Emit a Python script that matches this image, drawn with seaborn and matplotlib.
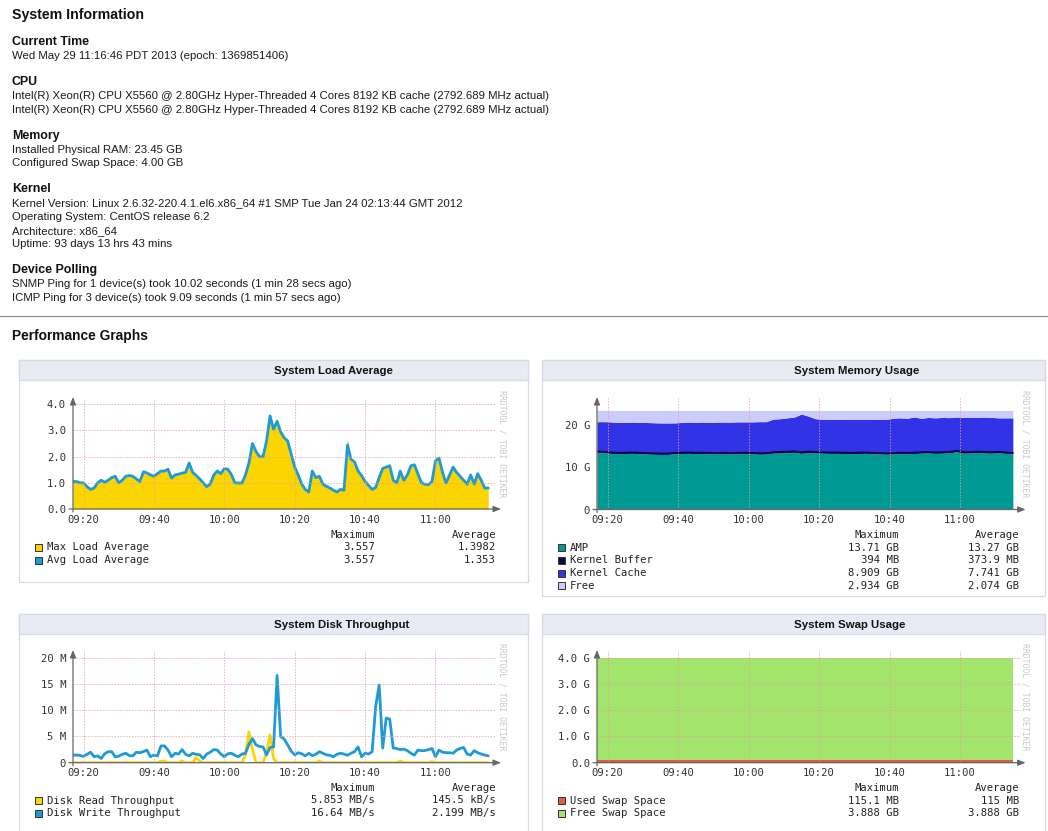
import numpy as np
import pandas as pd
import matplotlib
matplotlib.use("Agg")
import matplotlib.pyplot as plt
from matplotlib.patches import Rectangle
import seaborn as sns

sns.set_style("white")
SANS = ["Liberation Sans", "DejaVu Sans"]
MONO = "DejaVu Sans Mono"
plt.rcParams["font.family"] = SANS

W, H = 1048, 831

# ---------------------------------------------------------------- data
time_ticks = [0, 20, 40, 60, 80, 100]          # minutes after 09:20
time_labels = ["09:20", "09:40", "10:00", "10:20", "10:40", "11:00"]

# one-minute samples starting 3 minutes before 09:20
sample_start = -3
load_max = [1.05, 1.05, 1.0, 1.0, 0.85, 0.75, 0.8, 1.0, 1.1, 1.02, 1.1, 1.2, 1.25,
            1.0, 1.1, 1.25, 1.28, 1.25, 1.15, 1.05, 1.42, 1.38, 1.3,
            1.25, 1.35, 1.45, 1.45, 1.52, 1.18, 1.3, 1.33, 1.37, 1.4,
            1.76, 1.4, 1.28, 1.15, 1.0, 0.85, 0.95, 1.3, 1.45, 1.35,
            1.54, 1.52, 1.32, 1.0, 0.99, 0.99, 1.3, 1.76, 2.5, 2.2,
            2.0, 2.0, 2.6, 3.557, 3.05, 3.35, 2.95, 2.72, 2.6, 2.1,
            1.6, 1.3, 0.95, 0.75, 0.65, 1.45, 1.2, 1.25, 0.95, 0.87,
            0.8, 0.72, 0.65, 0.75, 0.72, 2.7, 1.9, 1.8, 1.45, 1.28,
            1.05, 0.9, 0.75, 0.82, 1.2, 1.55, 1.6, 1.65, 1.1, 1.0,
            1.45, 1.1, 1.3, 1.65, 1.69, 1.35, 1.0, 0.95, 0.93, 1.05,
            1.84, 1.95, 1.4, 0.99, 1.3, 1.6, 1.4, 1.25, 1.1, 0.95,
            1.3, 0.95, 1.35, 1.1, 0.8, 0.8]
load_avg = [1.05, 1.05, 1.0, 1.0, 0.85, 0.75, 0.8, 1.0, 1.1, 1.02, 1.1, 1.2, 1.25,
            1.0, 1.1, 1.25, 1.28, 1.25, 1.15, 1.05, 1.42, 1.38, 1.3,
            1.25, 1.35, 1.45, 1.45, 1.52, 1.18, 1.3, 1.33, 1.37, 1.4,
            1.76, 1.4, 1.28, 1.15, 1.0, 0.85, 0.95, 1.3, 1.45, 1.35,
            1.54, 1.52, 1.32, 1.0, 0.99, 0.99, 1.3, 1.76, 2.5, 2.2,
            2.0, 2.0, 2.6, 3.557, 3.05, 3.35, 2.95, 2.72, 2.6, 2.1,
            1.6, 1.3, 0.95, 0.75, 0.65, 1.45, 1.2, 1.25, 0.95, 0.87,
            0.8, 0.72, 0.65, 0.75, 0.72, 2.45, 1.9, 1.8, 1.45, 1.28,
            1.05, 0.9, 0.75, 0.82, 1.2, 1.55, 1.6, 1.65, 1.1, 1.0,
            1.45, 1.1, 1.3, 1.65, 1.69, 1.35, 1.0, 0.95, 0.93, 1.05,
            1.84, 1.95, 1.4, 0.99, 1.3, 1.6, 1.4, 1.25, 1.1, 0.95,
            1.3, 0.95, 1.35, 1.1, 0.8, 0.8]

disk_read_mb = [0, 0, 0, 0, 0, 0, 0, 0, 0, 0, 0, 0, 0,
                0, 0, 0, 0, 0, 0, 0, 0, 0, 0,
                0, 0, 0.3, 0.3, 0, 0, 0, 0, 0.3, 0,
                0, 0, 1.0, 0.3, 0, 0, 0, 0, 0, 0,
                0, 0, 0, 0, 0, 0, 1.5, 5.853, 2.5, 0,
                0, 0, 2.0, 5.3, 0.8, 0, 0, 0, 0, 0,
                0, 0, 0, 0, 0, 0, 0, 0.3, 0, 0,
                0, 0, 0, 0, 0, 0, 0, 0, 0, 0,
                0, 0, 0, 0, 0, 0, 0, 0, 0, 0,
                0.3, 0, 0, 0, 0, 0, 0, 0, 0, 0.2,
                0, 0, 0, 0, 0, 0, 0, 0, 0, 0,
                0, 0, 0, 0, 0, 0]
disk_write_mb = [1.46, 1.46, 1.4, 1.2, 1.6, 2.0, 1.14, 1.3, 0.8, 1.7, 2.1, 2.1, 1.1,
                 1.25, 1.6, 1.8, 1.35, 1.3, 2.0, 1.9, 2.1, 2.4, 1.14,
                 1.45, 1.3, 3.2, 3.2, 2.4, 1.14, 1.8, 1.65, 2.5, 1.6,
                 1.3, 1.8, 1.6, 1.5, 0.8, 1.65, 2.0, 2.5, 2.4, 1.65,
                 1.14, 1.7, 1.8, 1.4, 1.14, 1.65, 1.8, 3.5, 4.6, 3.4,
                 3.1, 3.0, 1.5, 2.9, 3.0, 16.64, 5.0, 4.5, 3.4, 2.2,
                 1.5, 1.9, 1.7, 1.3, 1.8, 1.35, 1.6, 2.1, 1.8, 1.5,
                 1.4, 1.14, 1.6, 1.8, 1.65, 1.4, 1.8, 2.1, 3.0, 1.14,
                 1.8, 1.65, 2.1, 10.7, 14.8, 2.8, 8.5, 8.3, 2.8, 2.7,
                 2.5, 2.6, 2.3, 1.8, 1.45, 2.4, 2.3, 2.3, 2.5, 2.7,
                 1.14, 2.4, 2.0, 1.9, 1.9, 1.8, 2.4, 2.7, 2.9, 1.65,
                 1.45, 2.3, 1.9, 1.65, 1.45, 1.3]

# memory, two-minute samples starting 3 minutes before 09:20 (GB)
mem_step = 2
installed_ram_gb = 23.45
mem_amp = [13.55, 13.45, 13.3, 13.2, 13.25, 13.3, 13.2, 13.15, 13.1, 13.05,
           13.05, 13.2, 13.25, 13.3, 13.2, 13.25, 13.2, 13.15, 13.2, 13.15,
           13.2, 13.25, 13.2, 13.1, 13.15, 13.35, 13.4, 13.45, 13.55, 13.3,
           13.5, 13.4, 13.35, 13.3, 13.3, 13.25, 13.2, 13.25, 13.3, 13.2,
           13.15, 13.1, 13.15, 13.2, 13.2, 13.25, 13.35, 13.4, 13.3, 13.35,
           13.4, 13.71, 13.35, 13.4, 13.5, 13.4, 13.35, 13.45, 13.3, 13.2]
mem_buffer = [0.38, 0.38, 0.37, 0.37, 0.37, 0.37, 0.37, 0.37, 0.36, 0.36,
              0.36, 0.37, 0.37, 0.37, 0.37, 0.37, 0.37, 0.37, 0.37, 0.37,
              0.37, 0.37, 0.37, 0.37, 0.37, 0.38, 0.38, 0.38, 0.39, 0.394,
              0.38, 0.38, 0.37, 0.37, 0.37, 0.37, 0.37, 0.37, 0.37, 0.37,
              0.37, 0.37, 0.37, 0.37, 0.37, 0.37, 0.37, 0.37, 0.37, 0.37,
              0.37, 0.37, 0.37, 0.37, 0.37, 0.37, 0.37, 0.37, 0.37, 0.37]
mem_cache = [6.87, 6.97, 7.08, 7.03, 7.03, 7.03, 7.03, 7.08, 7.09, 7.09,
             7.09, 6.93, 6.98, 7.03, 7.08, 7.08, 7.08, 7.18, 7.13, 7.18,
             7.18, 7.13, 7.18, 7.33, 7.28, 7.67, 7.72, 7.87, 7.96, 8.909,
             8.22, 7.72, 7.63, 7.68, 7.68, 7.68, 7.78, 7.73, 7.68, 7.78,
             7.88, 7.88, 8.08, 8.13, 8.03, 8.28, 7.88, 8.03, 8.03, 8.08,
             7.98, 7.82, 8.08, 8.08, 7.93, 8.13, 8.08, 7.88, 8.03, 8.13]

swap_minutes = [-3, 115]
swap_used_gb = [0.115, 0.115]
swap_free_gb = [3.888, 3.888]

load_legend = [("Max Load Average", "3.557", "1.3982"),
               ("Avg Load Average", "3.557", "1.353")]
mem_legend = [("AMP", "13.71 GB", "13.27 GB"),
              ("Kernel Buffer", "394 MB", "373.9 MB"),
              ("Kernel Cache", "8.909 GB", "7.741 GB"),
              ("Free", "2.934 GB", "2.074 GB")]
disk_legend = [("Disk Read Throughput", "5.853 MB/s", "145.5 kB/s"),
               ("Disk Write Throughput", "16.64 MB/s", "2.199 MB/s")]
swap_legend = [("Used Swap Space", "115.1 MB", "115 MB"),
               ("Free Swap Space", "3.888 GB", "3.888 GB")]

info_sections = [
    ("Current Time", ["Wed May 29 11:16:46 PDT 2013 (epoch: 1369851406)"]),
    ("CPU", ["Intel(R) Xeon(R) CPU X5560 @ 2.80GHz Hyper-Threaded 4 Cores 8192 KB cache (2792.689 MHz actual)",
             "Intel(R) Xeon(R) CPU X5560 @ 2.80GHz Hyper-Threaded 4 Cores 8192 KB cache (2792.689 MHz actual)"]),
    ("Memory", ["Installed Physical RAM: 23.45 GB", "Configured Swap Space: 4.00 GB"]),
    ("Kernel", ["Kernel Version: Linux 2.6.32-220.4.1.el6.x86_64 #1 SMP Tue Jan 24 02:13:44 GMT 2012",
                "Operating System: CentOS release 6.2", "Architecture: x86_64",
                "Uptime: 93 days 13 hrs 43 mins"]),
    ("Device Polling", ["SNMP Ping for 1 device(s) took 10.02 seconds (1 min 28 secs ago)",
                        "ICMP Ping for 3 device(s) took 9.09 seconds (1 min 57 secs ago)"]),
]

# ---------------------------------------------------------------- colours
YELLOW = "#FAD500"
BLUE = "#1E9AD6"
TEAL = "#009A94"
NAVY = "#0B0B4A"
CACHE = "#3232E6"
FREE = "#CCCCFA"
RED = "#E05A4C"
GREEN = "#A2E46C"
GRID = "#E9A0A0"
AXIS = "#666666"
HEADER = "#E8EBF4"
BORDER = "#D6DAE2"

fig = plt.figure(figsize=(W / 100, H / 100), dpi=100)
fig.patch.set_facecolor("white")


def fx(x):
    return x / W


def fy(y):
    return 1 - y / H


def put(x, y, s, size=8.2, weight="normal", family=None, ha="left", color="#111111", **kw):
    fig.text(fx(x), fy(y), s, fontsize=size, fontweight=weight, ha=ha, va="center",
             color=color, family=family or SANS, **kw)


# ---------------------------------------------------------------- info text
put(12, 15, "System Information", size=10.2, weight="bold")
y = 42
for title, lines in info_sections:
    put(12, y, title, size=8.9, weight="bold")
    for i, line in enumerate(lines):
        put(12, y + 14 + 13.6 * i, line, size=8.2, color="#1a1a1a")
    y += 14 + 13.6 * len(lines) + 12.5

fig.add_artist(plt.Line2D([0, 1], [fy(316), fy(316)], color="#8a8a8a", lw=0.8,
                          transform=fig.transFigure))
put(12, 336, "Performance Graphs", size=9.9, weight="bold")


# ---------------------------------------------------------------- panels
def panel(x0, y0, x1, y1, title):
    fig.add_artist(Rectangle((fx(x0), fy(y1)), (x1 - x0) / W, (y1 - y0) / H,
                             transform=fig.transFigure, fc="white", ec=BORDER, lw=0.9, zorder=-2))
    fig.add_artist(Rectangle((fx(x0), fy(y0 + 20)), (x1 - x0) / W, 20 / H,
                             transform=fig.transFigure, fc=HEADER, ec=BORDER, lw=0.9, zorder=-1))
    put((x0 + x1) / 2, y0 + 10.5, title, size=8.2, weight="bold", color="#111111")


def chart_axes(x0, y0, x1, y1, ylim, yticks, ylabels, hgrid=True):
    ax = fig.add_axes([fx(x0), fy(y1), (x1 - x0) / W, (y1 - y0) / H])
    ax.set_xlim(-3, 117.2)
    ax.set_ylim(*ylim)
    ax.patch.set_visible(False)
    for sp in ax.spines.values():
        sp.set_visible(False)
    ax.set_xticks(time_ticks, time_labels, fontfamily=MONO)
    ax.set_yticks(yticks, ylabels, fontfamily=MONO)
    ax.tick_params(axis="both", direction="out", length=2.2, width=0.8, color=AXIS,
                   labelsize=7.6, labelcolor="#333333")
    ax.tick_params(axis="x", pad=1.8)
    ax.tick_params(axis="y", pad=2.8)
    for t in time_ticks:
        ax.axvline(t, color=GRID, lw=0.7, ls=(0, (1.5, 1.5)), alpha=0.8, zorder=4)
    if hgrid:
        for v in yticks[1:]:
            ax.axhline(v, color=GRID, lw=0.7, ls=(0, (1.5, 1.5)), alpha=0.8, zorder=4)
    wpx = x1 - x0
    hpx = y1 - y0
    arrow = dict(arrowstyle="-|>,head_length=0.45,head_width=0.18", color=AXIS, lw=0.9,
                 shrinkA=0, shrinkB=0)
    ax.annotate("", xy=(1 + 5 / wpx, 0), xytext=(-4 / wpx, 0), xycoords="axes fraction",
                arrowprops=arrow, annotation_clip=False, zorder=6)
    ax.annotate("", xy=(0, 1 + 1 / hpx), xytext=(0, -3 / hpx), xycoords="axes fraction",
                arrowprops=arrow, annotation_clip=False, zorder=6)
    return ax


def tidy(ax):
    ax.set_xlabel("")
    ax.set_ylabel("")


def watermark(x, y):
    put(x, y, "RRDTOOL / TOBI OETIKER", size=5.9, family=MONO, ha="center",
        color="#c9c9c9", rotation=270)


def legend(rows, colors, x_sq, x_max, x_avg, y_head, dy):
    put(x_max, y_head, "Maximum", size=7.6, family=MONO, ha="right", color="#222222")
    put(x_avg, y_head, "Average", size=7.6, family=MONO, ha="right", color="#222222")
    for i, ((name, vmax, vavg), c) in enumerate(zip(rows, colors)):
        yy = y_head + dy * (i + 1)
        fig.add_artist(Rectangle((fx(x_sq), fy(yy + 3.5)), 7 / W, 7 / H, transform=fig.transFigure,
                                 fc=c, ec="#333333", lw=0.7))
        put(x_sq + 12, yy, name, size=7.6, family=MONO, color="#222222")
        put(x_max, yy, vmax, size=7.6, family=MONO, ha="right", color="#222222")
        put(x_avg, yy, vavg, size=7.6, family=MONO, ha="right", color="#222222")


panel(19, 360, 528, 582, "System Load Average")
panel(542, 360, 1045, 596, "System Memory Usage")
panel(19, 614, 528, 840, "System Disk Throughput")
panel(542, 614, 1045, 840, "System Swap Usage")

minutes = np.arange(len(load_max)) + sample_start

# --- load average
ax1 = chart_axes(73, 398, 496, 509, (0, 4.24), [0, 1, 2, 3, 4],
                 ["0.0", "1.0", "2.0", "3.0", "4.0"])
load_df = pd.DataFrame({"minute": minutes, "max": load_max, "avg": load_avg})
ax1.fill_between(load_df["minute"], 0, load_df["max"], color=YELLOW, lw=0, zorder=1)
sns.lineplot(data=load_df, x="minute", y="avg", color=BLUE, lw=2.0, ax=ax1, zorder=3,
             legend=False)
tidy(ax1)
watermark(502, 444)
legend(load_legend, [YELLOW, BLUE], 35, 375, 496, 535, 12.5)

# --- memory usage
mem_min = np.arange(len(mem_amp)) * mem_step + sample_start
amp = np.array(mem_amp)
buf_top = amp + np.array(mem_buffer)
cache_top = buf_top + np.array(mem_cache)
ax2 = chart_axes(597, 398, 1020.6, 509.5, (0, 26.4), [0, 10, 20], ["0", "10 G", "20 G"],
                 hgrid=False)
ax2.fill_between(mem_min, 0, amp, color=TEAL, lw=0, zorder=1)
ax2.fill_between(mem_min, amp, buf_top, color=NAVY, lw=0, zorder=1)
sns.lineplot(x=mem_min, y=buf_top - 0.15, color=NAVY, lw=1.3, ax=ax2, zorder=2, legend=False)
ax2.fill_between(mem_min, buf_top, cache_top, color=CACHE, lw=0, zorder=1)
ax2.fill_between(mem_min, cache_top, installed_ram_gb, color=FREE, lw=0, zorder=1)
tidy(ax2)
watermark(1025, 444)
legend(mem_legend, [TEAL, NAVY, CACHE, FREE], 558, 899, 1019, 535, 12.7)

# --- disk throughput
ax3 = chart_axes(73, 651, 496, 762.7, (0, 21.28), [0, 5, 10, 15, 20],
                 ["0", "5 M", "10 M", "15 M", "20 M"])
disk_df = pd.DataFrame({"minute": minutes, "read": disk_read_mb, "write": disk_write_mb})
sns.lineplot(data=disk_df, x="minute", y="read", color=YELLOW, lw=2.0, ax=ax3, zorder=3,
             legend=False)
sns.lineplot(data=disk_df, x="minute", y="write", color=BLUE, lw=2.0, ax=ax3, zorder=3,
             legend=False)
tidy(ax3)
watermark(502, 697)
legend(disk_legend, [YELLOW, BLUE], 35, 375, 496, 788, 12.5)

# --- swap usage
ax4 = chart_axes(597, 651, 1020.6, 762.7, (0, 4.255), [0, 1, 2, 3, 4],
                 ["0.0", "1.0 G", "2.0 G", "3.0 G", "4.0 G"])
used = np.array(swap_used_gb)
ax4.fill_between(swap_minutes, 0, used, color=RED, lw=0, zorder=1)
ax4.fill_between(swap_minutes, used, used + np.array(swap_free_gb), color=GREEN, lw=0, zorder=1)
watermark(1025, 697)
legend(swap_legend, [RED, GREEN], 558, 899, 1019, 788, 12.5)

fig.savefig("out.png", dpi=100, facecolor="white")
